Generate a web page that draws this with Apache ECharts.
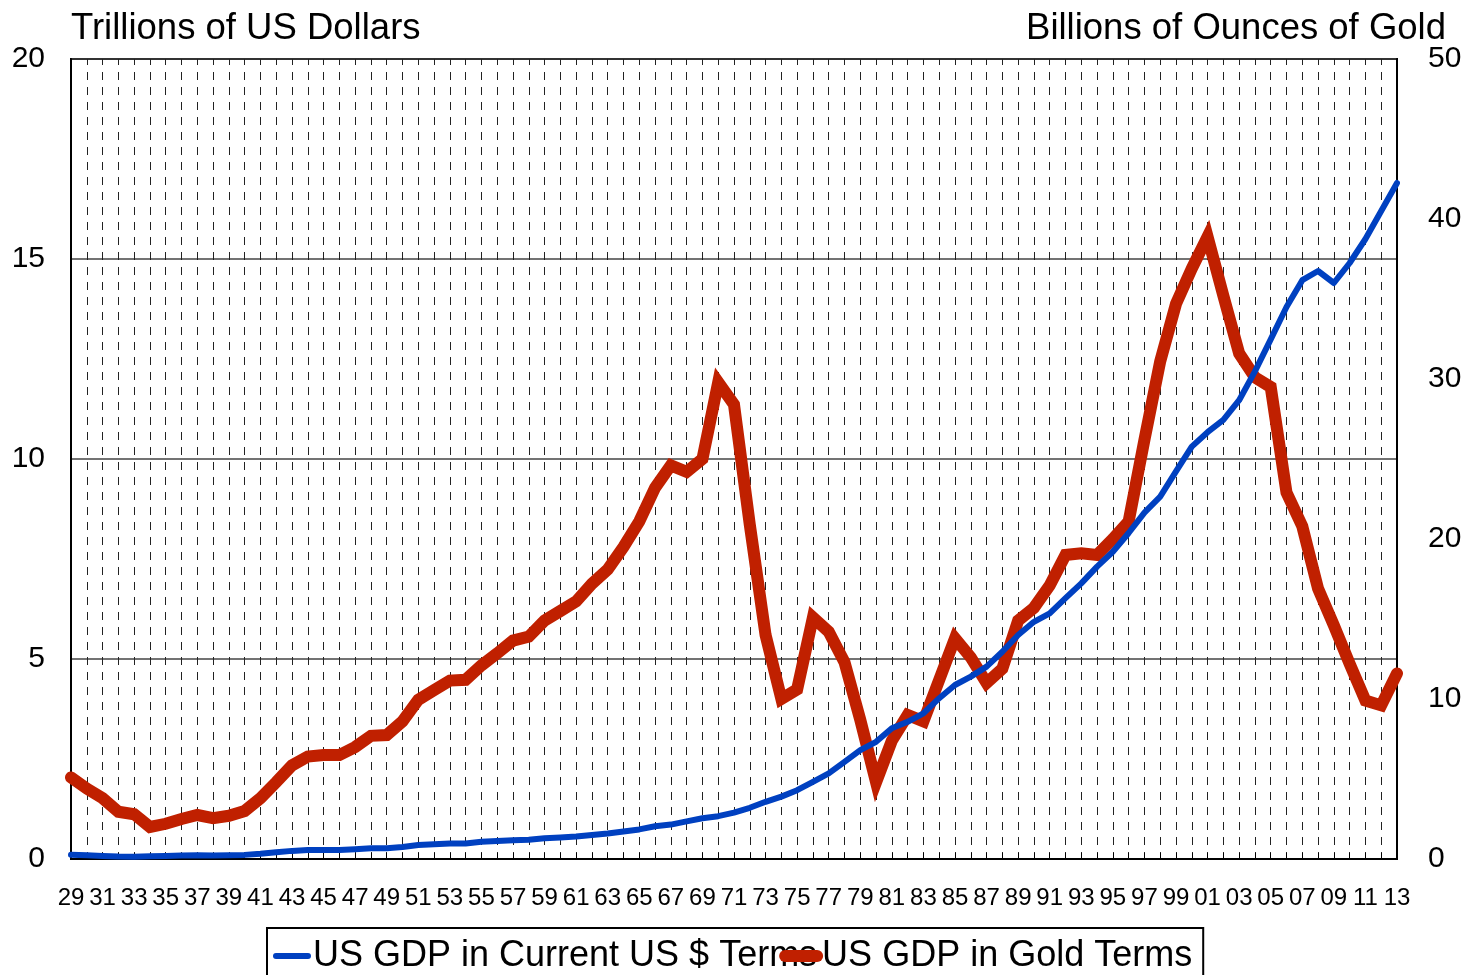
<!DOCTYPE html>
<html>
<head>
<meta charset="utf-8">
<script src="https://cdn.jsdelivr.net/npm/echarts@6/dist/echarts.min.js"></script>
<style>
  html, body { margin: 0; padding: 0; background: #fff; }
  #chart { width: 1469px; height: 975px; }
</style>
</head>
<body>
<div id="chart"></div>
<script>
// years 1929 .. 2013, shown as two digits
var years = ['29','30','31','32','33','34','35','36','37','38','39','40','41','42','43','44','45','46','47','48','49',
  '50','51','52','53','54','55','56','57','58','59','60','61','62','63','64','65','66','67','68','69',
  '70','71','72','73','74','75','76','77','78','79','80','81','82','83','84','85','86','87','88','89',
  '90','91','92','93','94','95','96','97','98','99','00','01','02','03','04','05','06','07','08','09',
  '10','11','12','13'];

// trillions of US dollars (left axis)
var gdpDollars = [0.105, 0.092, 0.077, 0.06, 0.057, 0.066, 0.074, 0.085, 0.093, 0.087, 0.093, 0.103,
  0.129, 0.166, 0.203, 0.225, 0.228, 0.228, 0.245, 0.27, 0.27, 0.3,
  0.35, 0.37, 0.39, 0.39, 0.43, 0.45, 0.47, 0.48, 0.52, 0.54,
  0.56, 0.6, 0.64, 0.69, 0.74, 0.82, 0.86, 0.94, 1.02, 1.07,
  1.16, 1.28, 1.43, 1.56, 1.72, 1.93, 2.14, 2.43, 2.72, 2.93,
  3.27, 3.43, 3.64, 4.02, 4.35, 4.56, 4.81, 5.18, 5.6, 5.93,
  6.14, 6.52, 6.89, 7.31, 7.68, 8.15, 8.66, 9.06, 9.69, 10.31,
  10.67, 10.98, 11.47, 12.19, 12.99, 13.8, 14.47, 14.7, 14.4, 14.9,
  15.5, 16.2, 16.9];

// billions of ounces of gold (right axis)
var gdpGold = [5.1, 4.4, 3.8, 2.95, 2.8, 2.0, 2.2, 2.5, 2.75, 2.55, 2.7, 3.0,
  3.8, 4.8, 5.85, 6.4, 6.5, 6.5, 7.0, 7.7, 7.75, 8.6,
  9.95, 10.55, 11.15, 11.2, 12.1, 12.85, 13.65, 13.9, 14.9, 15.5,
  16.1, 17.2, 18.1, 19.5, 21.1, 23.2, 24.6, 24.2, 25.0, 29.8,
  28.4, 20.9, 14.0, 10.0, 10.6, 15.1, 14.2, 12.3, 8.7, 4.8,
  7.4, 9.0, 8.6, 11.2, 13.8, 12.6, 11.0, 11.9, 14.9, 15.7,
  17.1, 19.0, 19.1, 19.0, 20.0, 21.1, 26.2, 31.1, 34.7, 36.9,
  38.9, 35.2, 31.6, 30.1, 29.5, 22.9, 20.8, 16.9, 14.6, 12.2,
  9.9, 9.6, 11.6];

var FONT = 'Liberation Sans, Arial, sans-serif';

var chart = echarts.init(document.getElementById('chart'));
var option = {
  animation: false,
  textStyle: { fontFamily: FONT, color: '#000' },
  title: [
    { text: 'Trillions of US Dollars', left: 71, top: 10, padding: 0,
      textStyle: { fontFamily: FONT, fontSize: 36.5, fontWeight: 'normal', color: '#000' } },
    { text: 'Billions of Ounces of Gold', right: 23, top: 10, padding: 0,
      textStyle: { fontFamily: FONT, fontSize: 36.5, fontWeight: 'normal', color: '#000' } }
  ],
  legend: {
    left: 267,
    top: 928,
    padding: [10, 11, 12, 6],
    itemGap: -38,
    itemWidth: 32,
    itemHeight: 6,
    borderColor: '#000',
    borderWidth: 2,
    textStyle: { fontFamily: FONT, fontSize: 36, color: '#000' },
    lineStyle: { width: 'inherit', cap: 'round' },
    data: ['US GDP in Current US $ Terms', 'US GDP in Gold Terms']
  },
  grid: {
    left: 71, right: 72, top: 59, bottom: 116,
    show: true, borderColor: '#000', borderWidth: 2
  },
  xAxis: {
    type: 'category',
    data: years,
    boundaryGap: false,
    axisLine: { lineStyle: { color: '#000', width: 2 } },
    axisTick: { inside: true, length: 6, interval: 0, lineStyle: { color: '#000' } },
    axisLabel: { interval: 1, fontSize: 24, color: '#000', margin: 27, fontFamily: FONT },
    splitLine: {
      show: true, interval: 0,
      lineStyle: { color: '#222', width: 1, type: [8, 7], dashOffset: 2 }
    }
  },
  yAxis: [
    {
      type: 'value', min: 0, max: 20, interval: 5,
      axisLine: { show: true, lineStyle: { color: '#000', width: 2 } },
      axisTick: { show: false },
      axisLabel: { fontSize: 30, color: '#000', margin: 26, fontFamily: FONT },
      splitLine: { show: true, lineStyle: { color: '#444', width: 1.5 } }
    },
    {
      type: 'value', min: 0, max: 50, interval: 10,
      axisLine: { show: true, lineStyle: { color: '#000', width: 2 } },
      axisTick: { show: false },
      axisLabel: { fontSize: 30, color: '#000', margin: 31, fontFamily: FONT },
      splitLine: { show: false }
    }
  ],
  series: [
    {
      name: 'US GDP in Current US $ Terms',
      type: 'line',
      yAxisIndex: 0,
      data: gdpDollars,
      symbol: 'none',
      clip: false,
      z: 4,
      lineStyle: { color: '#0040C0', width: 6, cap: 'round', join: 'round' },
      itemStyle: { color: '#0040C0' }
    },
    {
      name: 'US GDP in Gold Terms',
      type: 'line',
      yAxisIndex: 1,
      data: gdpGold,
      symbol: 'none',
      clip: false,
      z: 3,
      lineStyle: { color: '#C02000', width: 12, cap: 'round', join: 'miter' },
      itemStyle: { color: '#C02000' }
    }
  ]
};
chart.setOption(option);
</script>
</body>
</html>
